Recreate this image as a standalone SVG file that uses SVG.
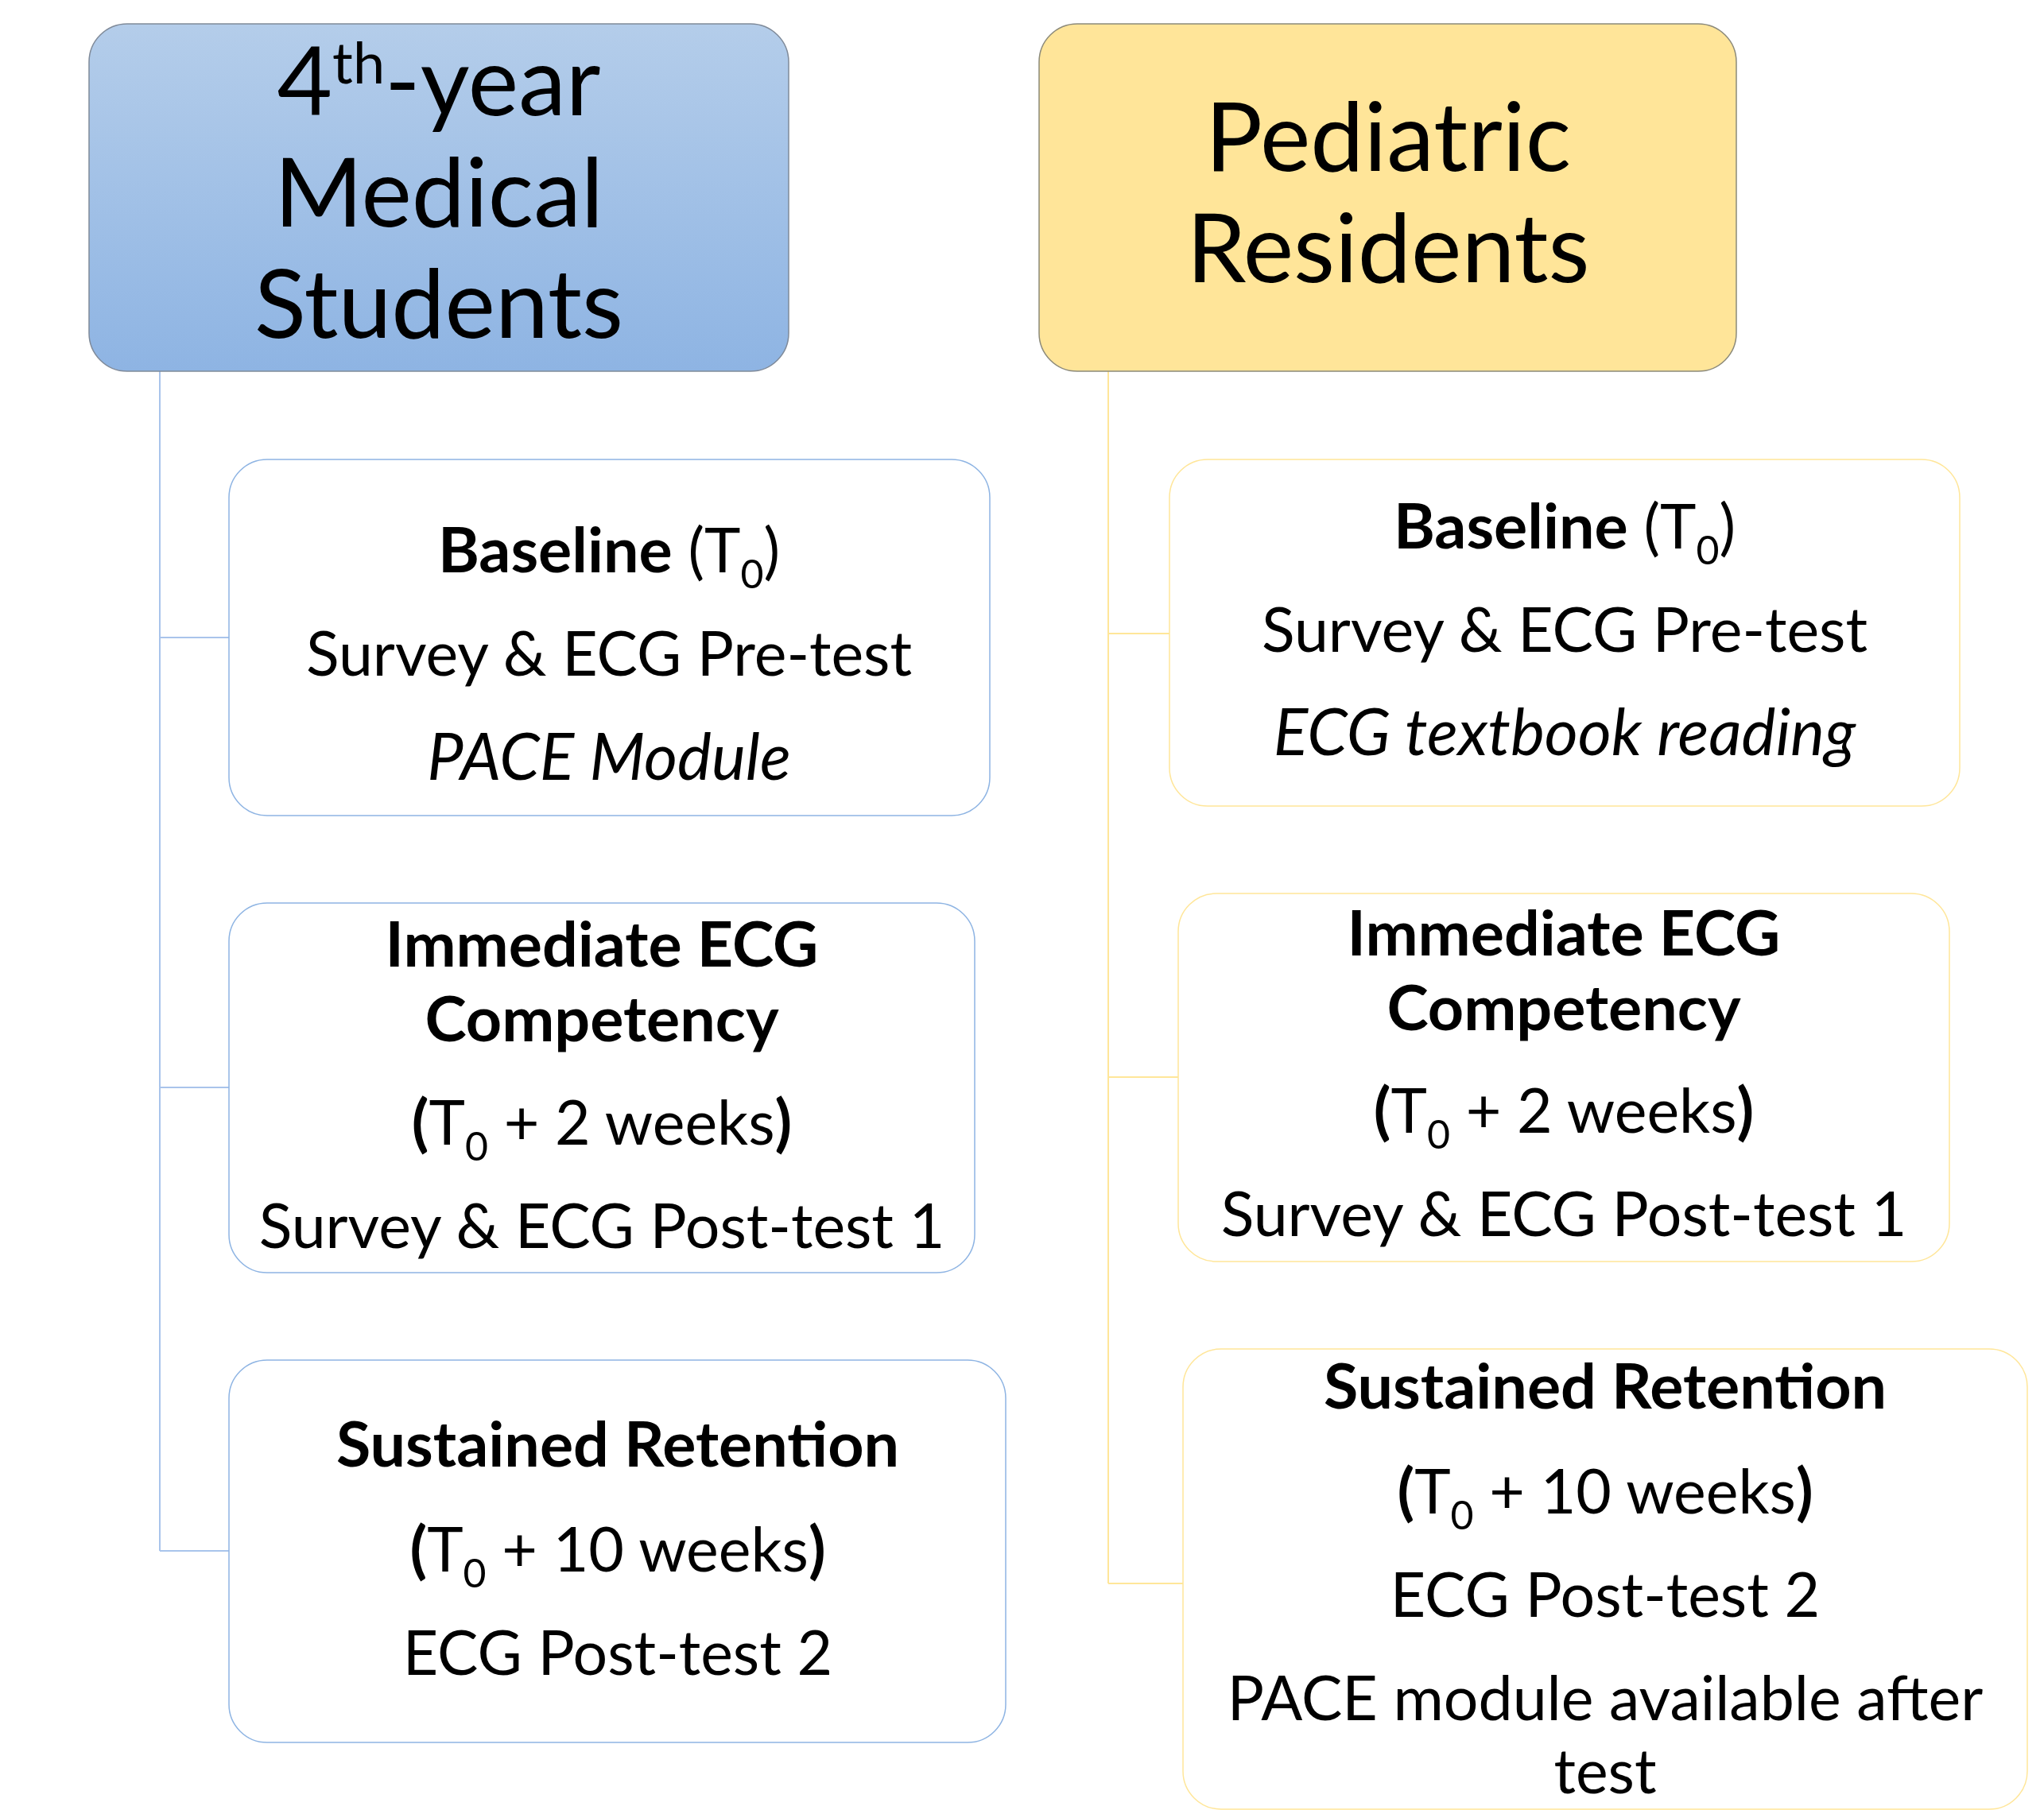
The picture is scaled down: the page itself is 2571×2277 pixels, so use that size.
<svg xmlns="http://www.w3.org/2000/svg" width="2571" height="2277" viewBox="0 0 2571 2277">
  <defs>
    <linearGradient id="blueFill" x1="0" y1="0" x2="0" y2="1">
      <stop offset="0" stop-color="#B4CDEA"/>
      <stop offset="1" stop-color="#8EB4E3"/>
    </linearGradient>
    <style>
      text { font-family: Lato, "Open Sans", "Liberation Sans", sans-serif; fill: #000; text-anchor: middle; }
      .head { font-size: 120px; }
      .body { font-size: 77px; }
      .b { font-weight: bold; font-size: 79px; }
      .i { font-style: italic; font-size: 81px; }
      .sub { font-size: 50px; }
      .sup { font-size: 72px; }
      .hdrL { fill: url(#blueFill); stroke: #7F8A99; stroke-width: 1.5; }
      .hdrR { fill: #FFE599; stroke: #8C8A7A; stroke-width: 1.5; }
      .boxL { fill: #FFFFFF; stroke: #8EB4E3; stroke-width: 1.5; }
      .boxR { fill: #FFFFFF; stroke: #FFE699; stroke-width: 1.5; }
      .lnL { fill: none; stroke: #A9C4EB; stroke-width: 2; }
      .lnR { fill: none; stroke: #FFE699; stroke-width: 2; }
    </style>
  </defs>
  <rect width="2571" height="2277" fill="#FFFFFF"/>

  <!-- connectors -->
  <g id="connectors">
    <path class="lnL" d="M201 467 V1951 M201 802 H288 M201 1368 H288 M201 1951 H288"/>
    <path class="lnR" d="M1394 467 V1992 M1394 797 H1471 M1394 1355 H1482 M1394 1992 H1488"/>
  </g>

  <!-- left column -->
  <g id="medical-students">
    <rect class="hdrL" x="112" y="30" width="880" height="437" rx="48" ry="48"/>
    <text class="head" x="552" y="145">4<tspan class="sup" dy="-40">th</tspan><tspan dy="40">-year</tspan></text>
    <text class="head" x="552" y="285">Medical</text>
    <text class="head" x="552" y="425">Students</text>
  </g>

  <g id="ms-baseline">
    <rect class="boxL" x="288" y="578" width="957" height="448" rx="48" ry="48"/>
    <text class="body" x="766" y="720"><tspan class="b">Baseline</tspan> (T<tspan class="sub" dy="20">0</tspan><tspan dy="-20">)</tspan></text>
    <text class="body" x="766" y="850">Survey &amp; ECG Pre-test</text>
    <text class="body i" x="766" y="981">PACE Module</text>
  </g>

  <g id="ms-immediate">
    <rect class="boxL" x="288" y="1136" width="938" height="465" rx="48" ry="48"/>
    <text class="body b" x="757" y="1216">Immediate ECG</text>
    <text class="body b" x="757" y="1310">Competency</text>
    <text class="body" x="757" y="1440"><tspan class="b">(</tspan>T<tspan class="sub" dy="20">0</tspan><tspan dy="-20"> + 2 weeks</tspan><tspan class="b">)</tspan></text>
    <text class="body" x="757" y="1570">Survey &amp; ECG Post-test 1</text>
  </g>

  <g id="ms-sustained">
    <rect class="boxL" x="288" y="1711" width="977" height="481" rx="48" ry="48"/>
    <text class="body b" x="777" y="1845">Sustained Retention</text>
    <text class="body" x="777" y="1977"><tspan class="b">(</tspan>T<tspan class="sub" dy="20">0</tspan><tspan dy="-20"> + 10 weeks</tspan><tspan class="b">)</tspan></text>
    <text class="body" x="777" y="2107">ECG Post-test 2</text>
  </g>

  <!-- right column -->
  <g id="pediatric-residents">
    <rect class="hdrR" x="1307" y="30" width="877" height="437" rx="48" ry="48"/>
    <text class="head" x="1746" y="215">Pediatric</text>
    <text class="head" x="1746" y="355">Residents</text>
  </g>

  <g id="pr-baseline">
    <rect class="boxR" x="1471" y="578" width="994" height="436" rx="48" ry="48"/>
    <text class="body" x="1968" y="690"><tspan class="b">Baseline</tspan> (T<tspan class="sub" dy="20">0</tspan><tspan dy="-20">)</tspan></text>
    <text class="body" x="1968" y="820">Survey &amp; ECG Pre-test</text>
    <text class="body i" x="1968" y="950">ECG textbook reading</text>
  </g>

  <g id="pr-immediate">
    <rect class="boxR" x="1482" y="1124" width="970" height="463" rx="48" ry="48"/>
    <text class="body b" x="1967" y="1202">Immediate ECG</text>
    <text class="body b" x="1967" y="1296">Competency</text>
    <text class="body" x="1967" y="1425"><tspan class="b">(</tspan>T<tspan class="sub" dy="20">0</tspan><tspan dy="-20"> + 2 weeks</tspan><tspan class="b">)</tspan></text>
    <text class="body" x="1967" y="1555">Survey &amp; ECG Post-test 1</text>
  </g>

  <g id="pr-sustained">
    <rect class="boxR" x="1488" y="1697" width="1062" height="579" rx="48" ry="48"/>
    <text class="body b" x="2019" y="1772">Sustained Retention</text>
    <text class="body" x="2019" y="1904"><tspan class="b">(</tspan>T<tspan class="sub" dy="20">0</tspan><tspan dy="-20"> + 10 weeks</tspan><tspan class="b">)</tspan></text>
    <text class="body" x="2019" y="2034">ECG Post-test 2</text>
    <text class="body" x="2019" y="2164">PACE module available after</text>
    <text class="body" x="2019" y="2256">test</text>
  </g>
</svg>
